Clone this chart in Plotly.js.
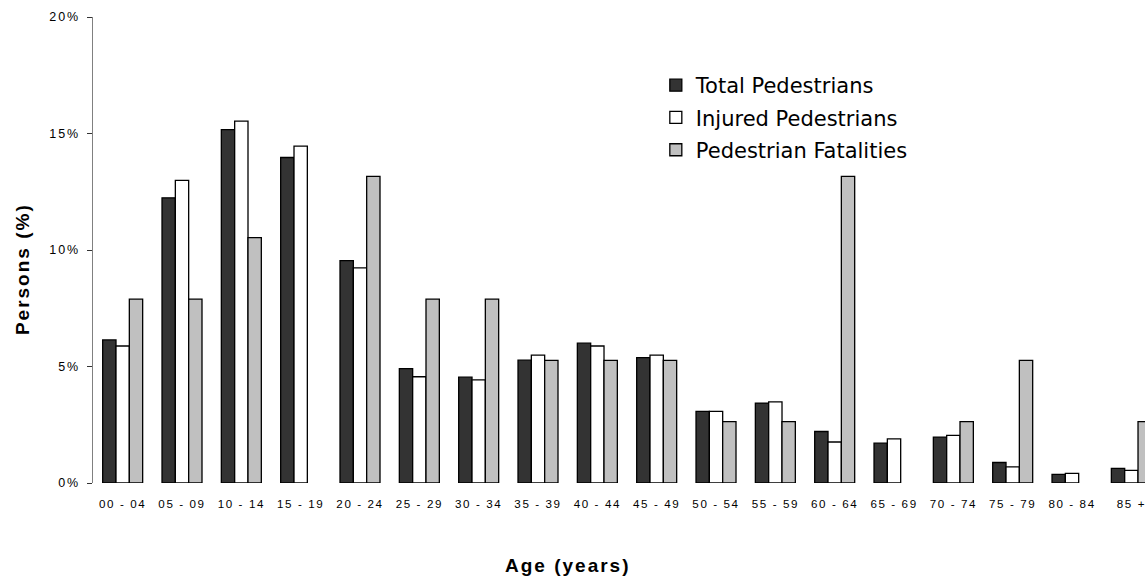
<!DOCTYPE html>
<html>
<head>
<meta charset="utf-8">
<script src="https://cdn.plot.ly/plotly-3.0.1.min.js"></script>
<style>
html,body{margin:0;padding:0;background:#fff;}
#chart{width:1145px;height:579px;}
#chart .xtick text{letter-spacing:1.6px;}
#chart .ytick text{letter-spacing:1.9px;}
#chart .annotation-text{letter-spacing:2px;}
</style>
</head>
<body>
<div id="chart"></div>
<script>
var ageGroups = ["00 - 04","05 - 09","10 - 14","15 - 19","20 - 24","25 - 29","30 - 34","35 - 39","40 - 44","45 - 49","50 - 54","55 - 59","60 - 64","65 - 69","70 - 74","75 - 79","80 - 84","85 +"];
var totalPedestrians = [6.14, 12.24, 15.17, 13.97, 9.54, 4.91, 4.54, 5.27, 6.00, 5.38, 3.07, 3.43, 2.21, 1.71, 1.97, 0.88, 0.37, 0.63];
var injuredPedestrians = [5.88, 12.99, 15.53, 14.46, 9.23, 4.56, 4.43, 5.49, 5.88, 5.49, 3.07, 3.48, 1.76, 1.89, 2.04, 0.69, 0.41, 0.54];
var pedestrianFatalities = [7.89, 7.89, 10.53, null, 13.16, 7.89, 7.89, 5.26, 5.26, 5.26, 2.63, 2.63, 13.16, null, 2.63, 5.26, null, 2.63];
var seriesNames = ["Total Pedestrians", "Injured Pedestrians", "Pedestrian Fatalities"];
var yTickVals = [0, 5, 10, 15, 20];
var yTickText = ["0%", "5%", "10%", "15%", "20%"];
var xTitle = "Age (years)";
var yTitle = "Persons (%)";

var FONT = "Liberation Sans, Arial, Helvetica, sans-serif";
var LEGEND_FONT = "DejaVu Sans, Liberation Sans, Arial, sans-serif";
function bar(name, values, color, group) {
  return {
    type: "bar", name: name, x: ageGroups, y: values, legendgroup: group,
    marker: {color: color, line: {color: "#000000", width: 1.3}},
    hoverinfo: "x+y"
  };
}
var data = [
  bar(seriesNames[0], totalPedestrians, "#333333", "a"),
  bar(seriesNames[1], injuredPedestrians, "#ffffff", "b"),
  bar(seriesNames[2], pedestrianFatalities, "#c0c0c0", "c")
];
var layout = {
  width: 1145, height: 579,
  margin: {l: 93, r: 0, t: 17, b: 96, pad: 0},
  paper_bgcolor: "#ffffff", plot_bgcolor: "#ffffff",
  font: {family: FONT, color: "#000000"},
  barmode: "group", bargap: 0.326, bargroupgap: 0,
  showlegend: true,
  legend: {
    x: 0.535, y: 0.897, xanchor: "left", yanchor: "top",
    font: {family: LEGEND_FONT, size: 21, color: "#000000"},
    bgcolor: "rgba(0,0,0,0)", borderwidth: 0,
    traceorder: "grouped", tracegroupgap: 2, itemwidth: 30
  },
  xaxis: {
    type: "category", range: [-0.5, 17.23],
    showline: false, showgrid: false, zeroline: false, ticks: "",
    tickangle: 0, ticklabelstandoff: 12,
    tickfont: {family: FONT, size: 11.6, color: "#000000"},
    automargin: false, fixedrange: true
  },
  yaxis: {
    range: [0, 20], tickmode: "array", tickvals: yTickVals, ticktext: yTickText,
    showline: true, linecolor: "#808080", linewidth: 1.5,
    ticks: "outside", ticklen: 5, tickcolor: "#333333", tickwidth: 1,
    ticklabelstandoff: 4,
    showgrid: false, zeroline: false,
    tickfont: {family: FONT, size: 12.5, color: "#000000"},
    automargin: false, fixedrange: true
  },
  annotations: [
    {text: "<b>" + xTitle + "</b>", xref: "paper", yref: "paper", x: 0.4515, y: -0.176,
     xanchor: "center", yanchor: "middle", showarrow: false,
     font: {family: FONT, size: 19, color: "#000000"}},
    {text: "<b>" + yTitle + "</b>", xref: "paper", yref: "paper", x: -0.0675, y: 0.459,
     xanchor: "center", yanchor: "middle", showarrow: false, textangle: -90,
     font: {family: FONT, size: 19, color: "#000000"}}
  ]
};
Plotly.newPlot("chart", data, layout, {displayModeBar: false, staticPlot: true});
</script>
</body>
</html>
